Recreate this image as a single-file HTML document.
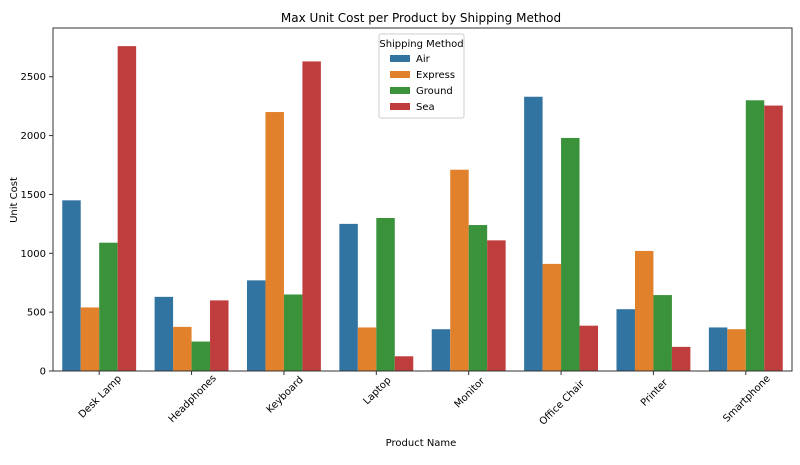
<!DOCTYPE html>
<html><head><meta charset="utf-8"><style>
body{margin:0;background:#fff;font-family:"Liberation Sans","DejaVu Sans",sans-serif}
</style></head><body>
<svg id="c" width="800" height="460" xmlns="http://www.w3.org/2000/svg" font-family="DejaVu Sans, Liberation Sans, sans-serif">
<text x="421" y="22" text-anchor="middle" font-size="12" fill="#000">Max Unit Cost per Product by Shipping Method</text>
<text transform="translate(17,200) rotate(-90)" text-anchor="middle" font-size="10">Unit Cost</text>
<text x="421" y="446" text-anchor="middle" font-size="10">Product Name</text>
<g id="bars"></g><g id="axes"></g>
</svg>
<script>
const categories=["Desk Lamp","Headphones","Keyboard","Laptop","Monitor","Office Chair","Printer","Smartphone"];
const seriesNames=["Air","Express","Ground","Sea"];
const air=[1450,630,770,1250,355,2330,525,370];
const express=[540,375,2200,370,1710,910,1020,355];
const ground=[1090,250,650,1300,1240,1980,645,2300];
const sea=[2760,600,2630,125,1110,385,205,2255];
const yTicks=[0,500,1000,1500,2000,2500];
const colors=["#3274a1","#e1812c","#3a923a","#c03d3e"];
const series=[air,express,ground,sea];
const L=53,R=792,T=28,B=371,yMax=2914;
const NS="http://www.w3.org/2000/svg";
const y=v=>B-(B-T)*v/yMax;
const gw=(R-L)/categories.length;
const x=i=>L+gw*(i+0.5);
const bw=gw*0.8/4;
const svg=document.getElementById('c'),bars=document.getElementById('bars'),axes=document.getElementById('axes');
function mk(t,a,p){const e=document.createElementNS(NS,t);for(const k in a)e.setAttribute(k,a[k]);(p||svg).appendChild(e);return e;}
series.forEach((s,j)=>s.forEach((v,i)=>{
 const r=mk('rect',{x:x(i)-gw*0.4+j*bw,y:y(v),width:bw,height:B-y(v),fill:colors[j]},bars);
 
 
}));
const frame=mk('path',{d:`M${L},${T}V${B}H${R}V${T}Z`,fill:'none',stroke:'#333','stroke-width':1},axes);


yTicks.forEach(t=>{
 mk('line',{x1:L-4,x2:L,y1:y(t),y2:y(t),stroke:'#333'},axes);
 const tx=mk('text',{x:L-7,y:y(t)+3.5,'text-anchor':'end','font-size':10},axes);tx.textContent=t;
 
 
});
categories.forEach((c,i)=>{
 mk('line',{x1:x(i),x2:x(i),y1:B,y2:B+4,stroke:'#333'},axes);
 const w=c.length*5.6;
 const d=w/2*0.7071;
 const tx=mk('text',{transform:`translate(${x(i)+3},${B+10+d}) rotate(-45)`,'text-anchor':'middle','font-size':10},axes);tx.textContent=c;
 
 
});
const lg=mk('g',{});


mk('rect',{x:379,y:34,width:85,height:84,rx:2,fill:'#fff',stroke:'#ccc','fill-opacity':0.8},lg);
const lt=mk('text',{x:421.5,y:47,'text-anchor':'middle','font-size':10},lg);lt.textContent="Shipping Method";
seriesNames.forEach((n,j)=>{
 const e=mk('g',{},lg);
 
 
 mk('rect',{x:390,y:55+j*16,width:20,height:7,fill:colors[j]},e);
 const t=mk('text',{x:416,y:62+j*16,'font-size':10},e);t.textContent=n;
});
</script>
</body></html>
